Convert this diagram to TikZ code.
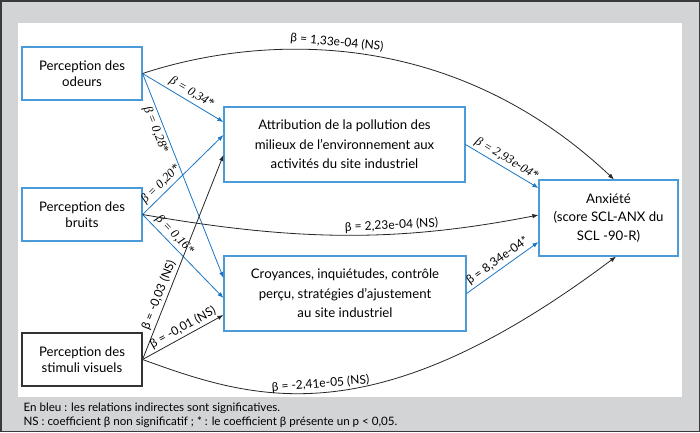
\documentclass[tikz,border=0pt]{standalone}
\usepackage{fontspec}
\setmainfont{Lato}
\newfontfamily\coefserif{Liberation Serif}
\usetikzlibrary{arrows.meta}

\definecolor{linkblue}{HTML}{1B75C2}
\definecolor{boxblue}{HTML}{4A9BD8}
\definecolor{panelgray}{HTML}{D3D4D6}
\definecolor{framegray}{HTML}{3A3A3A}

\begin{document}
\begin{tikzpicture}[x=1pt,y=-1pt,
  varbox/.style={draw=boxblue,line width=1.1pt,align=center,inner sep=0pt,font=\fontsize{13.2}{16}\selectfont},
  bigbox/.style={varbox,font=\fontsize{13.2}{19.5}\selectfont},
  direct/.style={draw=black!85,line width=0.8pt,-{Latex[length=6pt,width=4.5pt]}},
  indirect/.style={direct,draw=linkblue},
  coef/.style={sloped,inner sep=2.5pt,font=\fontsize{12}{13}\selectfont},
  coefit/.style={coef,font=\coefserif\itshape\fontsize{12.5}{13}\selectfont}]
\useasboundingbox (0,0) rectangle (700,432);
\fill[framegray] (0,0) rectangle (700,432);
\fill[panelgray] (1.5,1.5) rectangle (698.5,430.5);
\fill[white] (18,23) rectangle (682,397);

% variables
\node at (82,73.5) (odeurs) [varbox,minimum width=120,minimum height=53] {Perception des\\odeurs};
\node at (82,214.5) (bruits) [varbox,minimum width=120,minimum height=53] {Perception des\\bruits};
\node at (82,359.5) (visuels) [varbox,draw=black!80,minimum width=120,minimum height=53] {Perception des\\stimuli visuels};
\node at (344.5,144.5) (attribution) [bigbox,minimum width=241,minimum height=75] {Attribution de la pollution des\\milieux de l'environnement aux\\activités du site industriel};
\node at (345,293.5) (croyances) [bigbox,minimum width=242,minimum height=75] {Croyances, inquiétudes, contrôle\\perçu, stratégies d'ajustement\\au site industriel};
\node at (608.5,218) (anxiete) [varbox,font=\fontsize{13.2}{18.5}\selectfont,minimum width=139,minimum height=76] {Anxiété\\(score SCL-ANX du\\SCL -90-R)};

% liens vers les mediateurs
\draw[indirect] (odeurs.east) -- node[coefit,above,pos=0.55] {β = 0,34*} ([yshift=22.5]attribution.west);
\draw[indirect] (odeurs.east) -- node[coefit,below,pos=0.26] {β = 0,28*} ([yshift=15.5]croyances.west);
\draw[indirect] (bruits.east) -- node[coefit,above,pos=0.3] {β = 0,20*} ([yshift=9.5]attribution.west);
\draw[indirect] (bruits.east) -- node[coefit,above,pos=0.32] {β = 0,16*} ([yshift=-4.5]croyances.west);
\draw[direct] (visuels.east) -- node[coef,above,pos=0.3] {β = -0,03 (NS)} ([yshift=-10.5]attribution.west);
\draw[direct] (visuels.east) -- node[coef,above,pos=0.55] {β = -0,01 (NS)} ([yshift=-21.5]croyances.west);

% liens vers l'anxiete
\draw[indirect] (attribution.east) -- node[coefit,above,pos=0.5] {β = 2,93e-04*} ([yshift=30]anxiete.west);
\draw[indirect] (croyances.east) -- node[coef,above,pos=0.5] {β = 8,34e-04*} ([yshift=-24]anxiete.west);
\draw[direct] (odeurs.east) .. controls (260,35) and (450,25) .. node[coef,above,pos=0.45] {β = 1,33e-04 (NS)} ([xshift=5.5]anxiete.north);
\draw[direct] (bruits.east) .. controls (300,242) and (400,242) .. node[coef,above,pos=0.62] {β = 2,23e-04 (NS)} ([yshift=3]anxiete.west);
\draw[direct] (visuels.east) .. controls (254,400) and (373,439) .. node[coef,above,pos=0.48] {β = -2,41e-05 (NS)} ([xshift=7.5]anxiete.south);

% legende
\node at (20,411) (legendbleu) [anchor=base west,font=\fontsize{11.6}{13}\selectfont] {En bleu : les relations indirectes sont significatives.};
\node at (20,425) (legendns) [anchor=base west,font=\fontsize{11.6}{13}\selectfont] {NS : coefficient β non significatif ; * : le coefficient β présente un p < 0,05.};
\end{tikzpicture}
\end{document}
